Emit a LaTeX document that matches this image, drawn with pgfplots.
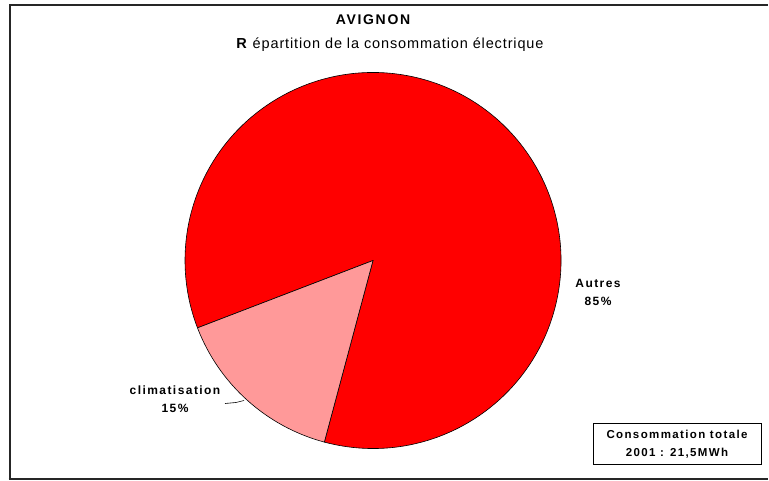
\documentclass[border=0pt]{standalone}
\usepackage{fontspec}
\setmainfont{Liberation Sans}
\usepackage{pgfplots}
\pgfplotsset{compat=1.18}
\definecolor{autres}{RGB}{255,0,0}
\definecolor{clim}{RGB}{255,153,153}
% data (percent)
\def\vclim{15}
\def\vautres{85}
\def\startang{201}
\begin{document}
\begin{tikzpicture}
\begin{axis}[
  scale only axis, width=769bp, height=481bp,
  xmin=0, xmax=769, ymin=0, ymax=481,
  hide axis, clip=true]
\pgfmathsetmacro{\climend}{\startang+\vclim*3.6}
\pgfmathsetmacro{\autend}{\climend+\vautres*3.6}
\path (axis cs:0,0) -- (axis cs:769,481);
% frame
\draw[line width=2bp, black!85] (axis cs:9.5,1) -- (axis cs:9.5,476) -- (axis cs:768,476);
\draw[line width=2bp, black!85] (axis cs:8.5,2) -- (axis cs:768,2);
% pie
\filldraw[fill=autres, draw=black, line width=0.6bp] (axis cs:373,220.5) -- ++(\climend:188bp) arc[start angle=\climend, end angle=\autend, radius=188bp] -- cycle;
\filldraw[fill=clim, draw=black, line width=0.6bp] (axis cs:373,220.5) -- ++(\startang:188bp) arc[start angle=\startang, end angle=\climend, radius=188bp] -- cycle;
% leader
\draw[black, line width=0.6bp] (axis cs:225,77.5) -- (axis cs:236,78.5) .. controls (axis cs:240,79) .. (axis cs:244,80.5);
% titles
\node[font=\fontsize{14bp}{16bp}\selectfont\bfseries\addfontfeature{LetterSpace=12}] at (axis cs:373,461) {AVIGNON};
\node[font=\fontsize{14.5bp}{16bp}\selectfont\addfontfeature{LetterSpace=6}] at (axis cs:390,436) {\textbf{R} épartition de la consommation électrique};
% labels
\node[align=center, font=\fontsize{12bp}{18bp}\selectfont\bfseries\addfontfeature{LetterSpace=12}] at (axis cs:598,189) {Autres\\85\%};
\node[align=center, font=\fontsize{12bp}{18bp}\selectfont\bfseries\addfontfeature{LetterSpace=12}] at (axis cs:175,82) {climatisation\\15\%};
% total box
\draw[black, line width=1bp, fill=white] (axis cs:593,16) rectangle (axis cs:761,57);
\node[align=center, font=\fontsize{11.5bp}{18bp}\selectfont\bfseries\addfontfeature{LetterSpace=12}] at (axis cs:677,36.5) {Consommation totale\\2001 : 21,5MWh};
\end{axis}
\end{tikzpicture}
\end{document}
